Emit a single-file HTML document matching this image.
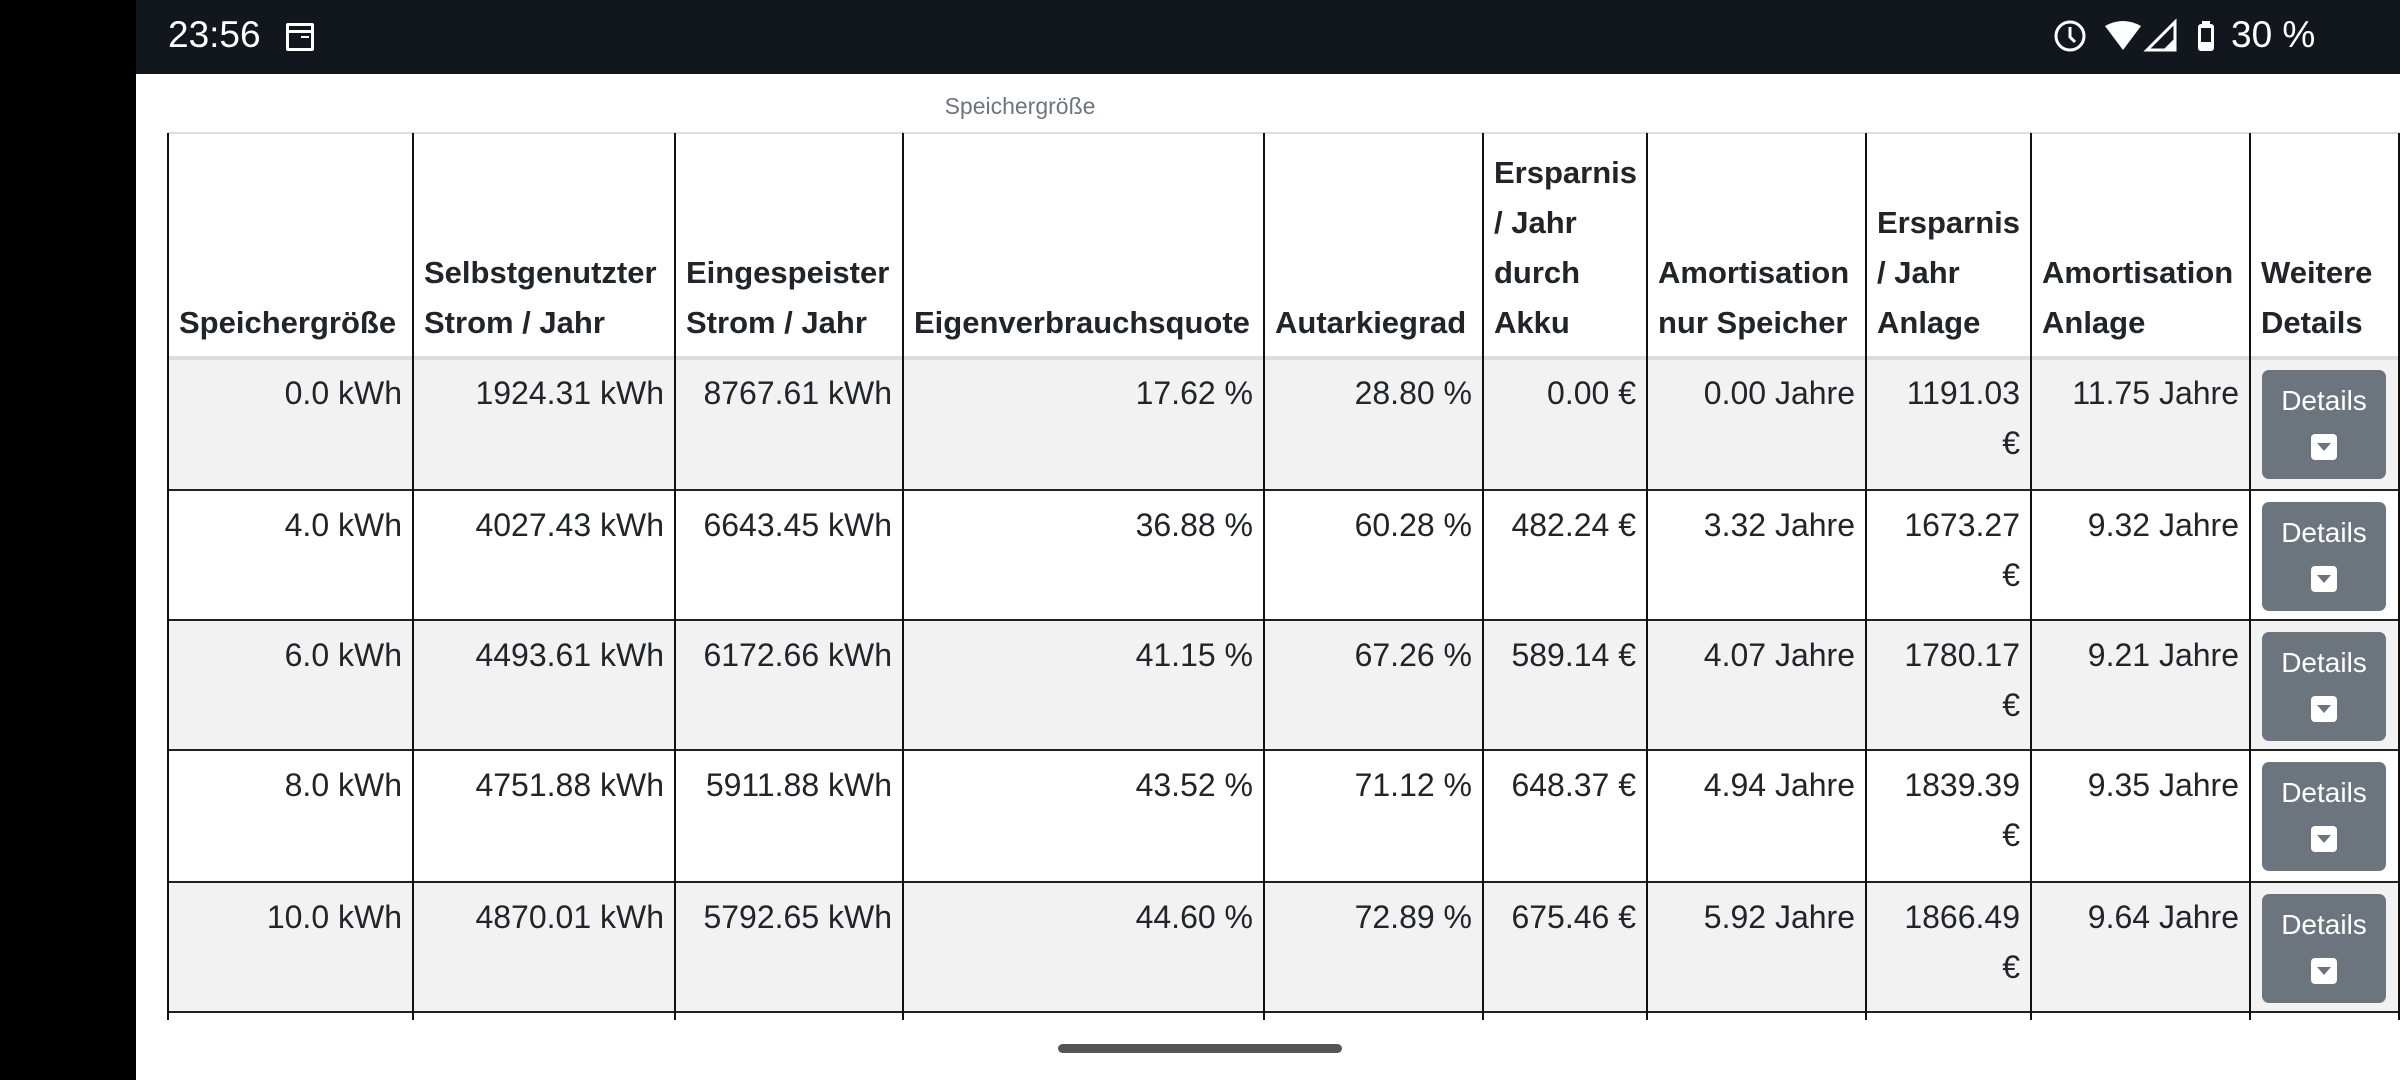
<!DOCTYPE html>
<html><head><meta charset="utf-8">
<style>
html,body{margin:0;padding:0;width:2400px;height:1080px;overflow:hidden;background:#fff;font-family:"Liberation Sans",sans-serif;color:#212529}
#leftbar{position:absolute;left:0;top:0;width:136px;height:1080px;background:#000}
#status{position:absolute;left:136px;top:0;width:2264px;height:74px;background:#11171d;color:#fff}
#time{position:absolute;left:32px;top:14px;font-size:37px}
#cal{position:absolute;left:150px;top:23px;width:28px;height:28px;border:3px solid #fff;box-sizing:border-box;border-radius:2px}
#cal:before{content:"";position:absolute;left:0;right:0;top:4px;height:3px;background:#fff}
#cal:after{content:"";position:absolute;left:12px;right:2px;top:10px;height:10px;border-top:2px solid #fff;border-bottom:2px solid #fff}
#batt-text{position:absolute;left:2231px;top:14px;font-size:37px}
#caption{position:absolute;left:0;top:93px;width:2040px;text-align:center;font-size:23px;color:#6c757d}
.cell{position:absolute;box-sizing:border-box;font-size:32px;line-height:50px;padding:0 11px;white-space:nowrap}
.hd{font-weight:bold;font-size:31px;text-align:left;display:flex;flex-direction:column;justify-content:flex-end;padding-bottom:10px}
.bd{text-align:right;padding-top:10px;line-height:50px}
.vl{position:absolute;width:2px;background:#111}
.hl{position:absolute;height:2px;background:#222}
.btn{position:absolute;background:#6c757d;border-radius:7px;color:#fff;font-size:28px;text-align:center}
.btn .caret{position:absolute;left:50%;margin-left:-13px;top:64px;width:26px;height:26px;background:#fff;border-radius:4px}
.btn .caret:after{content:"";position:absolute;left:6px;top:9px;border-left:7px solid transparent;border-right:7px solid transparent;border-top:8px solid #6c757d}
#handle{position:absolute;left:1058px;top:1044px;width:284px;height:9px;border-radius:5px;background:#555}
</style></head><body>
<div id="leftbar"></div>
<div id="status">
  <div id="time">23:56</div>
  <div id="cal"></div>
</div>
<svg style="position:absolute;left:2050px;top:18px" width="180" height="40">
  <circle cx="20" cy="18" r="14" fill="none" stroke="#fff" stroke-width="3"/>
  <path d="M20 9 V19 L25 24" stroke="#fff" stroke-width="3" fill="none"/>
  <path d="M55 8 Q73 -2 91 8 L73 32 Z" fill="#fff"/>
  <path d="M97 32 L125 4 L125 32 Z" fill="none" stroke="#fff" stroke-width="3"/>
  <path d="M113 32 L125 20 L125 32 Z" fill="#fff"/>
  <rect x="148" y="6" width="16" height="27" rx="3" fill="#fff"/>
  <rect x="152" y="3" width="8" height="4" fill="#fff"/>
  <rect x="151" y="10" width="10" height="14" fill="#11171d"/>
</svg>
<div id="batt-text" style="color:#fff">30 %</div>
<div id="caption">Speichergröße</div>
<div id="table"></div>
<div id="handle"></div>
<script>
const headers=["Speichergröße","Selbstgenutzter<br>Strom / Jahr","Eingespeister<br>Strom / Jahr","Eigenverbrauchsquote","Autarkiegrad","Ersparnis<br>/ Jahr<br>durch<br>Akku","Amortisation<br>nur Speicher","Ersparnis<br>/ Jahr<br>Anlage","Amortisation<br>Anlage","Weitere<br>Details"];
const storage=["0.0 kWh","4.0 kWh","6.0 kWh","8.0 kWh","10.0 kWh"];
const selfUsed=["1924.31 kWh","4027.43 kWh","4493.61 kWh","4751.88 kWh","4870.01 kWh"];
const fedIn=["8767.61 kWh","6643.45 kWh","6172.66 kWh","5911.88 kWh","5792.65 kWh"];
const selfRate=["17.62 %","36.88 %","41.15 %","43.52 %","44.60 %"];
const autarky=["28.80 %","60.28 %","67.26 %","71.12 %","72.89 %"];
const saveBatt=["0.00 €","482.24 €","589.14 €","648.37 €","675.46 €"];
const amortBatt=["0.00 Jahre","3.32 Jahre","4.07 Jahre","4.94 Jahre","5.92 Jahre"];
const saveSys=["1191.03<br>€","1673.27<br>€","1780.17<br>€","1839.39<br>€","1866.49<br>€"];
const amortSys=["11.75 Jahre","9.32 Jahre","9.21 Jahre","9.35 Jahre","9.64 Jahre"];
const colX=[168,413,675,903,1264,1483,1647,1866,2031,2250,2399];
const rowY=[358,490,620,750,882,1012];
const cols=[storage,selfUsed,fedIn,selfRate,autarky,saveBatt,amortBatt,saveSys,amortSys];
const T=document.getElementById('table');
function add(cls,css,html){const d=document.createElement('div');d.className=cls;Object.assign(d.style,css);if(html!==undefined)d.innerHTML=html;T.appendChild(d);return d;}
for(let r=0;r<storage.length;r++){
  if(r%2===0){const s=add('',{position:'absolute',left:colX[0]+'px',top:rowY[r]+'px',width:(colX[10]-colX[0])+'px',height:(rowY[r+1]-rowY[r])+'px',background:'#f2f2f2'});
  
  }
}
for(let c=0;c<headers.length;c++){
  const h=add('cell hd',{left:colX[c]+'px',top:'133px',width:(colX[c+1]-colX[c])+'px',height:(rowY[0]-133)+'px'},'<div>'+headers[c]+'</div>');
  
  
}
for(let r=0;r<storage.length;r++){
  for(let c=0;c<cols.length;c++){
    const d=add('cell bd',{left:colX[c]+'px',top:rowY[r]+'px',width:(colX[c+1]-colX[c])+'px',height:(rowY[r+1]-rowY[r])+'px'},cols[c][r]);
    
    
  }
  const b=add('btn',{left:'2262px',top:(rowY[r]+12)+'px',width:'124px',height:'109px',lineHeight:'62px'},'Details<div class="caret"></div>');
  
  
}
const top1=add('hl',{left:colX[0]+'px',top:'132px',width:(colX[10]-colX[0])+'px',background:'#ddd'});


const hb=add('hl',{left:colX[0]+'px',top:(rowY[0]-2)+'px',width:(colX[10]-colX[0])+'px',height:'4px',background:'#dcdcdc'});


for(let r=1;r<rowY.length;r++){
  const l=add('hl',{left:colX[0]+'px',top:(rowY[r]-1)+'px',width:(colX[10]-colX[0])+'px'});
  
  
}
for(let c=0;c<colX.length;c++){
  const v=add('vl',{left:(colX[c]-1)+'px',top:'133px',height:(rowY[5]-133+8)+'px'});
  
  
}
</script>
</body></html>
